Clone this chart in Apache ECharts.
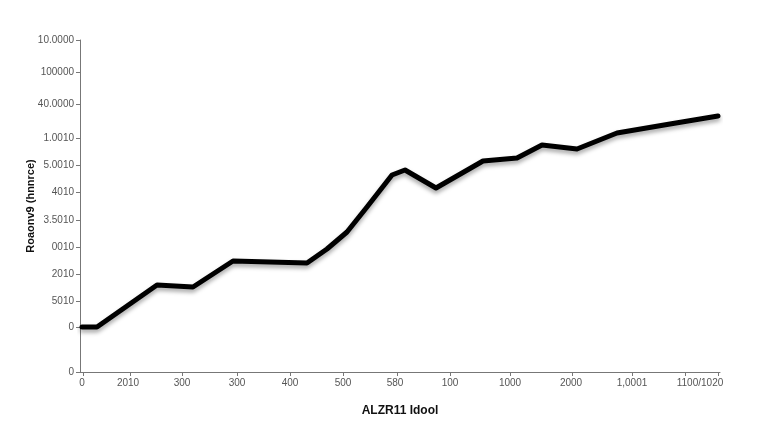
<!DOCTYPE html>
<html>
<head>
<meta charset="utf-8">
<script src="https://cdn.jsdelivr.net/npm/echarts@6/dist/echarts.min.js"></script>
<style>html,body{margin:0;padding:0;background:#fff}#c{width:768px;height:432px}</style>
</head>
<body>
<div id="c"></div>
<script>
// Series (x, y) values in axis units
const xValues = [2, 17, 77, 113, 153, 190, 227, 247, 267, 287, 312, 325, 356, 403, 437, 462, 497, 537, 590, 638];
const yValues = [45, 45, 87, 85, 111, 110, 109, 123, 140, 165, 197, 202, 184, 211, 214, 227, 223, 239, 248, 256];

// X axis ticks and labels
const xTickValues = [3, 50, 102, 157, 210, 263, 317, 370, 430, 492, 552, 605, 638];
const xLabelValues = [2, 48, 102, 157, 210, 263, 315, 370, 430, 491, 552, 620];
const xLabelTexts = ["0", "2010", "300", "300", "400", "500", "580", "100", "1000", "2000", "1,0001", "1100/1020"];

// Y axis ticks and labels
const yTickValues = [0, 45, 71, 98, 125, 152, 180, 207, 234, 268, 300, 332];
const yLabelTexts = ["0", "0", "5010", "2010", "0010", "3.5010", "4010", "5.0010", "1.0010", "40.0000", "100000", "10.0000"];

const xTitle = "ALZR11 Idool";
const yTitle = "Roaonv9 (hnnrce)";

const data = xValues.map((x, i) => [x, yValues[i]]);
const chart = echarts.init(document.getElementById('c'), null, {renderer: 'canvas'});
const labelFont = {color: '#555', fontSize: 10, fontFamily: 'Liberation Sans, Arial, sans-serif'};
chart.setOption({
  animation: false,
  backgroundColor: '#fff',
  grid: {left: 80, right: 48, top: 40, bottom: 60},
  xAxis: {
    type: 'value', min: 0, max: 640,
    name: xTitle, nameLocation: 'middle', nameGap: 33, nameMoveOverlap: false,
    nameTextStyle: {color: '#111', fontSize: 12, fontWeight: 'bold', fontFamily: 'Liberation Sans, Arial, sans-serif'},
    axisLine: {show: true, lineStyle: {color: '#777', width: 1}},
    axisTick: {show: true, length: 4, customValues: xTickValues, lineStyle: {color: '#777'}},
    axisLabel: Object.assign({
      customValues: xLabelValues, margin: 6,
      formatter: (v) => { const i = xLabelValues.indexOf(v); return i >= 0 ? xLabelTexts[i] : ''; }
    }, labelFont),
    splitLine: {show: false}
  },
  yAxis: {
    type: 'value', min: 0, max: 332,
    name: yTitle, nameLocation: 'middle', nameGap: 44, nameRotate: 90, nameMoveOverlap: false,
    nameTextStyle: {color: '#111', fontSize: 11, fontWeight: 'bold', fontFamily: 'Liberation Sans, Arial, sans-serif'},
    axisLine: {show: true, lineStyle: {color: '#777', width: 1}},
    axisTick: {show: true, length: 4, customValues: yTickValues, lineStyle: {color: '#777'}},
    axisLabel: Object.assign({
      customValues: yTickValues, margin: 6,
      formatter: (v) => { const i = yTickValues.indexOf(v); return i >= 0 ? yLabelTexts[i] : ''; }
    }, labelFont),
    splitLine: {show: false}
  },
  series: [{
    type: 'line',
    data: data,
    showSymbol: false,
    lineStyle: {color: '#000', width: 5, join: 'round', cap: 'round',
      shadowColor: 'rgba(0,0,0,0.35)', shadowBlur: 4, shadowOffsetY: 3}
  }]
});
</script>
</body>
</html>
